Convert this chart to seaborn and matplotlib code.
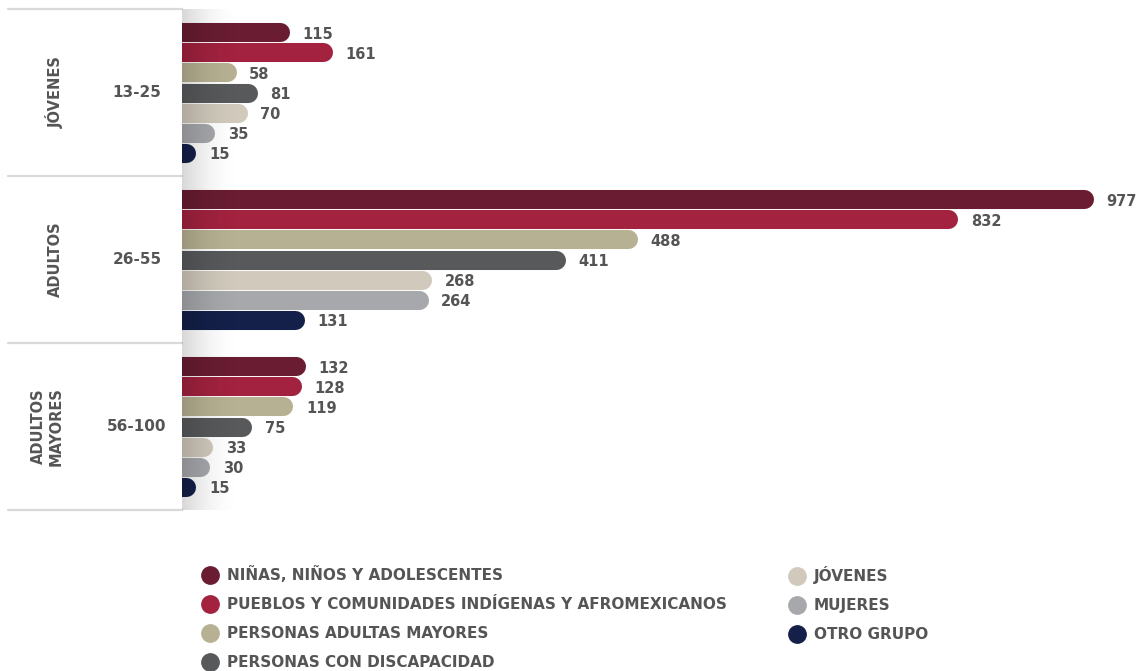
import numpy as np
import pandas as pd
import matplotlib
matplotlib.use("Agg")
import matplotlib.pyplot as plt
import matplotlib.transforms as mtransforms
from matplotlib.lines import Line2D
import seaborn as sns

# ---------------- data ----------------
groups = ["JÓVENES", "ADULTOS", "ADULTOS\nMAYORES"]
ranges = ["13-25", "26-55", "56-100"]
series = [
    "NIÑAS, NIÑOS Y ADOLESCENTES",
    "PUEBLOS Y COMUNIDADES INDÍGENAS Y AFROMEXICANOS",
    "PERSONAS ADULTAS MAYORES",
    "PERSONAS CON DISCAPACIDAD",
    "JÓVENES",
    "MUJERES",
    "OTRO GRUPO",
]
ninas = [115, 977, 132]
pueblos = [161, 832, 128]
adultas_mayores = [58, 488, 119]
discapacidad = [81, 411, 75]
jovenes = [70, 268, 33]
mujeres = [35, 264, 30]
otro_grupo = [15, 131, 15]
colors = ["#691C32", "#A2223F", "#B7B193", "#58595B", "#D0C9BC", "#A7A8AC", "#14204A"]

values = [ninas, pueblos, adultas_mayores, discapacidad, jovenes, mujeres, otro_grupo]
rows = []
for s, vals in zip(series, values):
    for r, v in zip(ranges, vals):
        rows.append({"rango": r, "serie": s, "valor": v})
df = pd.DataFrame(rows)

TEXT = "#555555"

sns.set_theme(style="white")
plt.rcParams["font.family"] = ["DejaVu Sans"]
plt.rcParams["font.weight"] = "bold"

W, H = 1136, 671
fig = plt.figure(figsize=(W / 100, H / 100), dpi=100)
ax_left, ax_top, ax_bottom = 182, 9, 510
ax = fig.add_axes([ax_left / W, 1 - ax_bottom / H, 1 - ax_left / W, (ax_bottom - ax_top) / H])

sns.barplot(data=df, y="rango", x="valor", hue="serie", hue_order=series,
            palette=colors, orient="h", width=0.84, saturation=1,
            legend=False, ax=ax)

ax.set_xlim(0, (W - ax_left) / 0.9325)
ax.set_ylim(2.5, -0.5)
ax.axis("off")

fig.canvas.draw()
px_per_unit = ax.transData.transform((1, 0))[0] - ax.transData.transform((0, 0))[0]

# replace bars by rounded-cap lines
for p in list(ax.patches):
    w = p.get_width()
    y0 = p.get_y()
    h = p.get_height()
    yc = y0 + h / 2
    c = p.get_facecolor()
    p.set_visible(False)
    h_px = abs(ax.transData.transform((0, y0 + h))[1] - ax.transData.transform((0, y0))[1])
    lw_px = h_px * 0.95
    r_units = (lw_px / 2) / px_per_unit
    ax.add_line(Line2D([-5 * r_units, w - r_units], [yc, yc], color=c,
                       lw=lw_px * 72 / 100, solid_capstyle="round", zorder=3))
    ax.text(w + 13 / px_per_unit, yc + 0.014, f"{int(round(w))}", ha="left", va="center",
            fontsize=10.5, fontweight="bold", color=TEXT, zorder=4)

# left gradient shadow overlay
ov = fig.add_axes(ax.get_position(), zorder=5)
ov.axis("off")
n = 256
t = np.linspace(0, 1, n)
grad = np.zeros((1, n, 4))
frac = 62 / (W - ax_left)
grad[0, :, 3] = 0.16 * (1 - t) ** 2
ov.imshow(grad, extent=[0, frac, 0, 1], aspect="auto", interpolation="bilinear")
ov.set_xlim(0, 1)
ov.set_ylim(0, 1)

# left table lines and labels
blend = mtransforms.blended_transform_factory(fig.transFigure, ax.transData)
for yb in [-0.5, 0.5, 1.5, 2.5]:
    fig.add_artist(Line2D([8 / W, ax_left / W], [yb, yb], transform=blend,
                          color="#d9d9d9", lw=1.6))
for i, (g, r) in enumerate(zip(groups, ranges)):
    fig.text(55 / W if "\n" not in g else 47 / W, i, g, transform=blend, rotation=90,
             ha="center", va="center", fontsize=10.5, fontweight="bold", color=TEXT,
             linespacing=1.25, multialignment="center")
    fig.text(137 / W, i, r, transform=blend, ha="center", va="center",
             fontsize=11, fontweight="bold", color=TEXT)

# legend (two columns)
handles = [Line2D([], [], marker="o", ls="", markersize=12.5,
                  markerfacecolor=c, markeredgecolor=c) for c in colors]
common = dict(frameon=False, loc="upper left", handlelength=1.0, handletextpad=0.62,
              labelspacing=0.92, borderpad=0, borderaxespad=0,
              prop={"weight": "bold", "size": 11, "family": "DejaVu Sans"})
leg1 = fig.legend(handles[:4], series[:4], bbox_to_anchor=(202 / W, 1 - 566 / H), **common)
leg2 = fig.legend(handles[4:], series[4:], bbox_to_anchor=(789 / W, 1 - 566 / H), **common)
for leg in (leg1, leg2):
    for txt in leg.get_texts():
        txt.set_color(TEXT)

fig.savefig("out.png", dpi=100)
